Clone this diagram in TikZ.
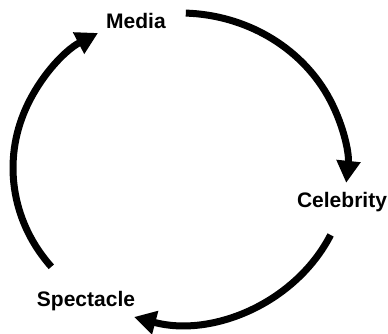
\documentclass[tikz,border=0pt]{standalone}
\usepackage{fontspec}
\setmainfont{Liberation Sans}
\usetikzlibrary{arrows.meta,calc}
\begin{document}
\begin{tikzpicture}[x=1pt,y=1pt,
  cyc/.style={line width=7pt,-{Triangle[width=23pt,length=22pt]}},
  lbl/.style={font=\fontsize{21}{25}\selectfont\bfseries,anchor=base,inner sep=0pt}]
\useasboundingbox (0,0) rectangle (388,334);
\coordinate (c) at (180,166);
\node[lbl] (media) at (136,305) {Media};
\node[lbl] (celeb) at (342,126) {Celebrity};
\node[lbl] (spec) at (86,27) {Spectacle};
\coordinate (s1) at ($(c)+(88:167 and 155)$);
\coordinate (s2) at ($(c)+(-25.6:167 and 155)$);
\coordinate (s3) at ($(c)+(219.6:167 and 155)$);
\draw[cyc] (s1) arc[start angle=88, end angle=-5.5, x radius=167, y radius=155];
\draw[cyc] (s2) arc[start angle=-25.6, end angle=-106, x radius=167, y radius=155];
\draw[cyc] (s3) arc[start angle=219.6, end angle=119.4, x radius=167, y radius=155];
\end{tikzpicture}
\end{document}
